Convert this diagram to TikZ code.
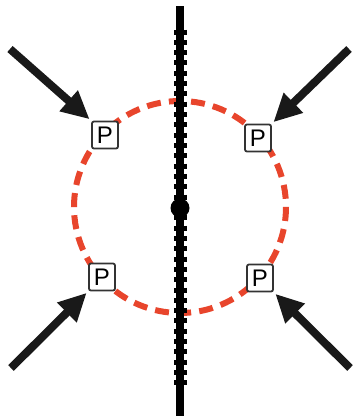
\documentclass[tikz,border=0pt]{standalone}
\usepackage{fontspec}
\setmainfont{Liberation Sans}
\usetikzlibrary{arrows.meta}
\definecolor{ringred}{HTML}{E8452C}
\definecolor{boxgray}{HTML}{333333}
\tikzset{
  ring/.style={draw=ringred, line width=6pt, dash pattern=on 14pt off 8.2pt},
  axis/.style={draw=black, line width=8pt},
  ticks/.style={draw=black, line width=13pt, dash pattern=on 5pt off 5.32pt},
  pbox/.style={draw=boxgray, fill=white, line width=1.8pt, rounded corners=2pt,
    minimum width=26pt, minimum height=27pt, inner sep=0pt,
    font=\fontsize{24}{24}\selectfont},
  push/.style={draw=black!90, line width=8pt, -{Triangle[length=28pt,width=26pt]}, shorten >=2pt}
}
\begin{document}
\begin{tikzpicture}[x=1pt,y=-1pt]
\useasboundingbox (0,0) rectangle (353,418);
\coordinate (c) at (180,207);
\draw[ring] (c) circle (106);
\coordinate (top) at (180,6);
\coordinate (bot) at (180,416);
\coordinate (t1) at (180,29.5);
\coordinate (t2) at (180,385.5);
\draw[axis] (top) -- (bot);
\draw[ticks] (t1) -- (t2);
\fill[black] (180,208) circle (9.5);
\node[pbox] (p1) at (105,135) {P};
\node[pbox] (p2) at (258,138) {P};
\node[pbox] (p3) at (102,277) {P};
\node[pbox] (p4) at (260,278) {P};
\coordinate (a1) at (10,49);
\coordinate (a2) at (349,49);
\coordinate (a3) at (11,368);
\coordinate (a4) at (350,368);
\draw[push] (a1) -- (p1.north west);
\draw[push] (a2) -- (p2.north east);
\draw[push] (a3) -- (p3.south west);
\draw[push] (a4) -- (p4.south east);
\end{tikzpicture}
\end{document}
